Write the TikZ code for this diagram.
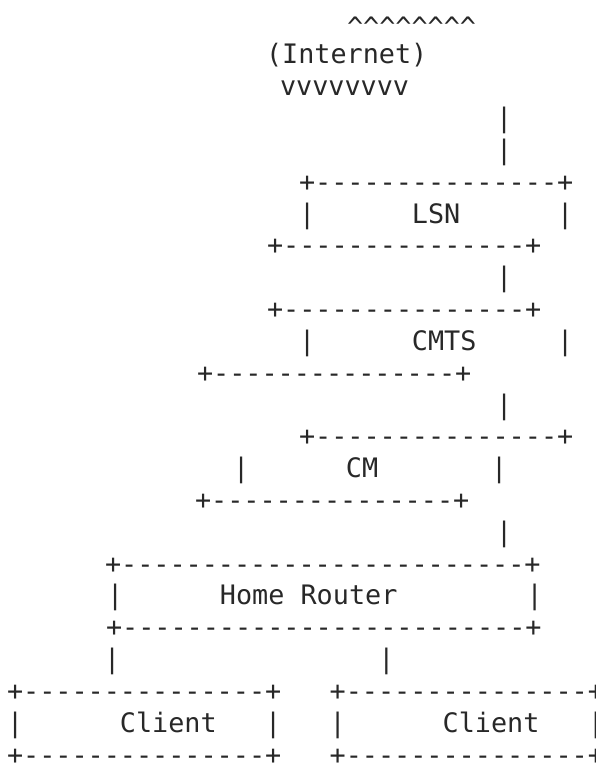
\documentclass[tikz,border=0pt]{standalone}
\usepackage{fontspec}
\newfontfamily\asciifont{DejaVu Sans Mono}
\definecolor{asciigray}{RGB}{40,40,40}
\begin{document}
\begin{tikzpicture}[x=1pt,y=-1pt,
    row/.style={anchor=base west,inner sep=0pt,outer sep=0pt,text=asciigray,
      font=\asciifont\fontsize{26.8pt}{32pt}\selectfont}]
  \useasboundingbox (0,0) rectangle (596,765);
  \draw
    (347,37.0) node[row] (caret){\textasciicircum\textasciicircum\textasciicircum\textasciicircum\textasciicircum\textasciicircum\textasciicircum\textasciicircum}
    (266,63.8) node[row] (inet){(Internet)}
    (280,95.7) node[row] (vee){vvvvvvvv}
    (496,127.5) node[row] (bara){|}
    (496,159.3) node[row] (barb){|};
  % LSN
  \draw
    (299,191.2) node[row] (lsntop){+---------------+}
    (299,223.0) node[row] (lsn){|~~~~~~LSN~~~~~~|}
    (267,254.8) node[row] (lsnbot){+---------------+}
    (496,286.6) node[row] (barc){|};
  % CMTS
  \draw
    (267,318.5) node[row] (cmtstop){+---------------+}
    (299,350.3) node[row] (cmts){|~~~~~~CMTS~~~~~|}
    (197,382.1) node[row] (cmtsbot){+---------------+}
    (496,414.0) node[row] (bard){|};
  % CM
  \draw
    (299,445.8) node[row] (cmtop){+---------------+}
    (233,477.6) node[row] (cm){|~~~~~~CM~~~~~~~|}
    (195,509.5) node[row] (cmbot){+---------------+}
    (496,541.3) node[row] (bare){|};
  % Home Router
  \draw
    (105,573.1) node[row] (hrtop){+-------------------------+}
    (107,604.9) node[row] (hr){|~~~~~~Home Router~~~~~~~~|}
    (106,636.8) node[row] (hrbot){+-------------------------+}
    (104,668.6) node[row] (barf){|~~~~~~~~~~~~~~~~|};
  % Clients
  \draw
    (7,700.4) node[row] (cltop){+---------------+~~~+---------------+}
    (7,732.3) node[row] (cl){|~~~~~~Client~~~|~~~|~~~~~~Client~~~|}
    (7,764.1) node[row] (clbot){+---------------+~~~+---------------+};
\end{tikzpicture}
\end{document}
